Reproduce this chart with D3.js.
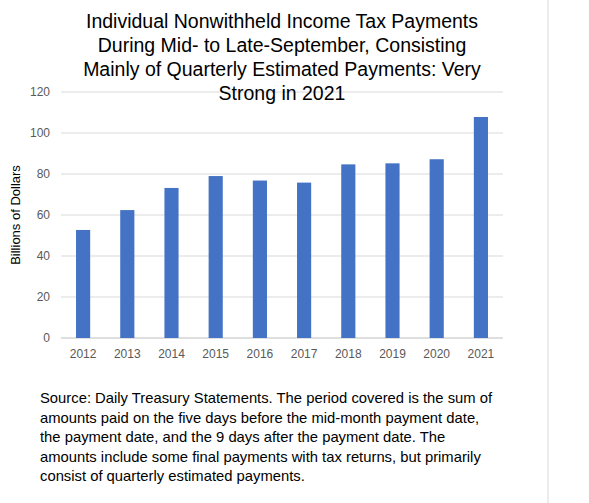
<!DOCTYPE html>
<html><head><meta charset="utf-8">
<script src="https://cdn.jsdelivr.net/npm/d3@7"></script>
<style>body{margin:0;background:#fff}</style>
</head><body>
<script>
const years = ["2012","2013","2014","2015","2016","2017","2018","2019","2020","2021"];
const payments = [52.7, 62.4, 73.2, 79, 76.8, 75.8, 84.7, 85.2, 87.2, 107.8];
const yTicks = [0, 20, 40, 60, 80, 100, 120];
const titleLines = ["Individual Nonwithheld Income Tax Payments","During Mid- to Late-September, Consisting","Mainly of Quarterly Estimated Payments: Very","Strong in 2021"];
const sourceLines = ["Source: Daily Treasury Statements. The period covered is the sum of","amounts paid on the five days before the mid-month payment date,","the payment date, and the 9 days after the payment date.  The","amounts include some final payments with tax returns, but primarily","consist of quarterly estimated payments."];

const svg = d3.select("body").append("svg").attr("width",589).attr("height",503)
  .style("font-family","'Liberation Sans', Arial, sans-serif");
svg.append("line").attr("x1",548).attr("x2",548).attr("y1",0).attr("y2",503).attr("stroke","#d9d9d9");

const x = d3.scaleBand().domain(years).range([61,503]).paddingInner(0.68).paddingOuter(0.34);
const y = d3.scaleLinear().domain([0,120]).range([338,92]);

svg.append("g").selectAll("line").data(yTicks).enter().append("line")
  .attr("x1",61).attr("x2",503).attr("y1",d=>y(d)).attr("y2",d=>y(d))
  .attr("stroke",d=>d===0?"#bfbfbf":"#d9d9d9");
svg.append("g").selectAll("text").data(yTicks).enter().append("text")
  .attr("x",50).attr("y",d=>y(d)+4).attr("text-anchor","end")
  .attr("font-size",12).attr("fill","#595959").text(d=>d);

svg.selectAll("rect.bar").data(payments).enter().append("rect")
  .attr("x",(d,i)=>x(years[i])).attr("width",x.bandwidth())
  .attr("y",d=>y(d)).attr("height",d=>y(0)-y(d)).attr("fill","#4472c4");

svg.append("g").selectAll("text").data(years).enter().append("text")
  .attr("x",d=>x(d)+x.bandwidth()/2).attr("y",358).attr("text-anchor","middle")
  .attr("font-size",12).attr("fill","#595959").text(d=>d);

svg.append("text").attr("transform","translate(20,215) rotate(-90)")
  .attr("text-anchor","middle").attr("font-size",13).attr("fill","#000").text("Billions of Dollars");

svg.append("g").selectAll("text").data(titleLines).enter().append("text")
  .attr("x",282).attr("y",(d,i)=>28+i*24).attr("text-anchor","middle")
  .attr("font-size",19.5).attr("fill","#000").text(d=>d);

svg.append("g").selectAll("text").data(sourceLines).enter().append("text")
  .attr("x",40).attr("y",(d,i)=>403+i*19.5)
  .attr("font-size",14.8).attr("fill","#000").text(d=>d);
</script>
</body></html>
